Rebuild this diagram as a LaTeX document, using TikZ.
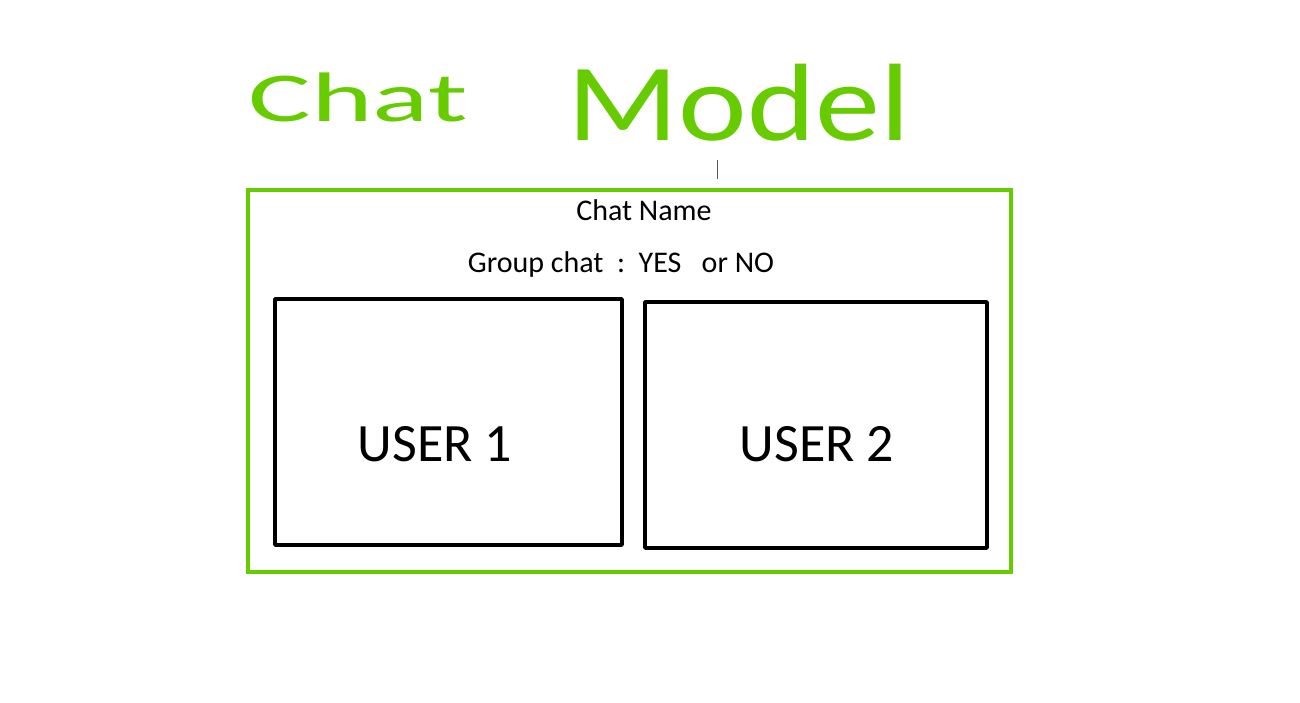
\documentclass[tikz,border=0pt]{standalone}
\usepackage{fontspec}
\setmainfont{Carlito}
\definecolor{pen}{RGB}{102,204,0}
\tikzset{
  outer/.style={draw=pen, line width=4pt},
  userbox/.style={draw=black, line width=3.5pt, line join=round},
  hand/.style={text=pen, inner sep=0pt, anchor=center},
  label/.style={inner sep=0pt, anchor=center, font=\fontsize{30}{34}\selectfont},
  usertext/.style={inner sep=0pt, anchor=center, font=\fontsize{54}{60}\selectfont}
}
\begin{document}
\begin{tikzpicture}[x=1pt,y=-1pt]
\useasboundingbox[fill=white] (0,0) rectangle (1300,702);
% handwritten title
\node[hand] (chat) at (358,97) {\scalebox{1.68}[1]{\fontsize{70}{80}\selectfont Chat}};
\node[hand] (model) at (739,103) {\scalebox{1.3}[1.1]{\fontsize{100}{110}\selectfont Model}};
% cursor mark
\draw[gray!70!black, line width=0.8pt] (717,160) -- (717,179);
% outer chat box
\draw[outer] (248,190) rectangle (1011,572);
\node[label] (name) at (644,210) {Chat Name};
\node[label] (group) at (621,264) {Group chat~~:~~YES~~~or NO};
% user boxes
\draw[userbox] (275,299) rectangle (622,545);
\draw[userbox] (645,302) rectangle (987,548);
\node[usertext] (u1) at (435,444) {USER 1};
\node[usertext] (u2) at (817,444) {USER 2};
\end{tikzpicture}
\end{document}
